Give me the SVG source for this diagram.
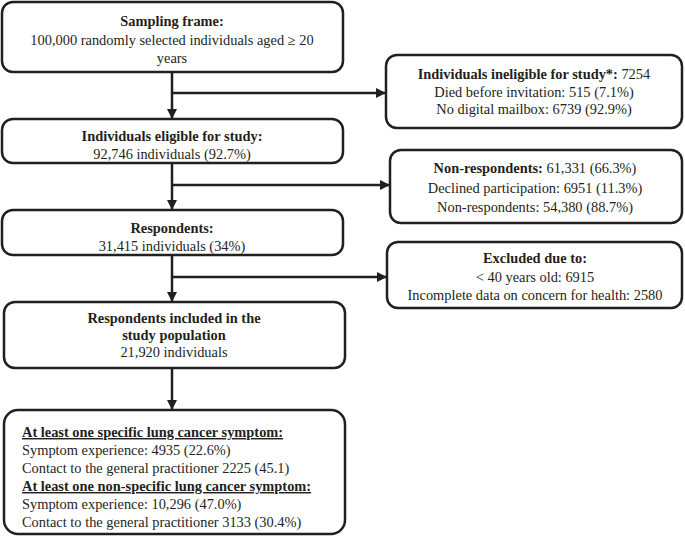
<svg xmlns="http://www.w3.org/2000/svg" width="685" height="537" viewBox="0 0 685 537">
<defs>
<marker id="ah" markerWidth="10" markerHeight="10" refX="9" refY="5" orient="auto" markerUnits="userSpaceOnUse">
<path d="M0,0 L10,5 L0,10 Z" fill="#231f20"/>
</marker>
<style>
.box{fill:#fff;stroke:#231f20;stroke-width:2.5}
.t{font-family:"Liberation Serif","Times New Roman",serif;font-size:14.4px;fill:#231f20}
.c{text-anchor:middle}
.b{font-weight:bold}
.u{text-decoration:underline}
.ln{stroke:#231f20;stroke-width:2.5;fill:none}
</style>
</defs>
<rect width="685" height="537" fill="#fff"/>
<g id="connectors">
<line class="ln" x1="172" y1="72" x2="172" y2="118" marker-end="url(#ah)"/>
<line class="ln" x1="172" y1="93" x2="385" y2="93" marker-end="url(#ah)"/>
<line class="ln" x1="172" y1="163" x2="172" y2="209" marker-end="url(#ah)"/>
<line class="ln" x1="172" y1="185" x2="389" y2="185" marker-end="url(#ah)"/>
<line class="ln" x1="172" y1="255" x2="172" y2="301" marker-end="url(#ah)"/>
<line class="ln" x1="172" y1="277" x2="386" y2="277" marker-end="url(#ah)"/>
<line class="ln" x1="172" y1="368" x2="172" y2="409" marker-end="url(#ah)"/>
</g>
<g id="sampling">
<rect class="box" x="2" y="2" width="341" height="70" rx="11"/>
<text class="t c b" x="172" y="26">Sampling frame:</text>
<text class="t c" x="172" y="45">100,000 randomly selected individuals aged ≥ 20</text>
<text class="t c" x="172" y="63">years</text>
</g>
<g id="ineligible">
<rect class="box" x="386" y="55" width="296" height="73" rx="11"/>
<text class="t c" x="534" y="79"><tspan class="b">Individuals ineligible for study*:</tspan> 7254</text>
<text class="t c" x="534" y="97">Died before invitation: 515 (7.1%)</text>
<text class="t c" x="534" y="114">No digital mailbox: 6739 (92.9%)</text>
</g>
<g id="eligible">
<rect class="box" x="2" y="119" width="341" height="44" rx="11"/>
<text class="t c b" x="172" y="141">Individuals eligible for study:</text>
<text class="t c" x="172" y="159">92,746 individuals (92.7%)</text>
</g>
<g id="nonrespondents">
<rect class="box" x="390" y="150" width="292" height="73" rx="11"/>
<text class="t c" x="535" y="173"><tspan class="b">Non-respondents:</tspan> 61,331 (66.3%)</text>
<text class="t c" x="535" y="193">Declined participation: 6951 (11.3%)</text>
<text class="t c" x="535" y="212">Non-respondents: 54,380 (88.7%)</text>
</g>
<g id="respondents">
<rect class="box" x="2" y="210" width="341" height="45" rx="11"/>
<text class="t c b" x="172" y="233">Respondents:</text>
<text class="t c" x="172" y="251">31,415 individuals (34%)</text>
</g>
<g id="excluded">
<rect class="box" x="387" y="242" width="295" height="66" rx="11"/>
<text class="t c b" x="535" y="263">Excluded due to:</text>
<text class="t c" x="535" y="282">&lt; 40 years old: 6915</text>
<text class="t c" x="535" y="300">Incomplete data on concern for health: 2580</text>
</g>
<g id="included">
<rect class="box" x="4" y="302" width="341" height="66" rx="11"/>
<text class="t c b" x="174" y="323">Respondents included in the</text>
<text class="t c b" x="174" y="340">study population</text>
<text class="t c" x="174" y="357">21,920 individuals</text>
</g>
<g id="symptoms">
<rect class="box" x="4" y="410" width="341" height="124" rx="14"/>
<text class="t b u" x="22" y="437">At least one specific lung cancer symptom:</text>
<text class="t" x="22" y="455">Symptom experience: 4935 (22.6%)</text>
<text class="t" x="22" y="473">Contact to the general practitioner 2225 (45.1)</text>
<text class="t b u" x="22" y="491">At least one non-specific lung cancer symptom:</text>
<text class="t" x="22" y="509">Symptom experience: 10,296 (47.0%)</text>
<text class="t" x="22" y="527">Contact to the general practitioner 3133 (30.4%)</text>
</g>
</svg>
